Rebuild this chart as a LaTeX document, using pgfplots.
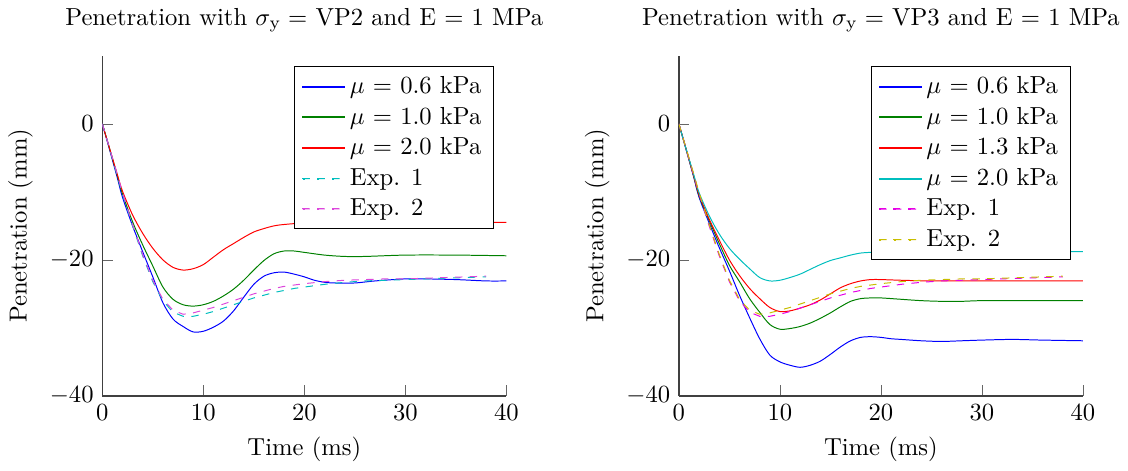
\documentclass[border=0pt]{standalone}
\usepackage{pgfplots}
\pgfplotsset{compat=1.18}
\usepackage{pgfplotstable}

\definecolor{cblue}{RGB}{0,0,255}
\definecolor{cgreen}{RGB}{0,128,0}
\definecolor{cred}{RGB}{255,0,0}
\definecolor{ccyan}{RGB}{0,190,190}
\definecolor{cmagenta}{RGB}{230,0,230}
\definecolor{cviolet}{RGB}{220,70,220}
\definecolor{cyellow}{RGB}{200,190,0}

% experimental curves, shared by both panels
\pgfplotstableread{
t d
0 0
0.5 -2.5
1 -5.1
1.5 -7.7
2 -10.3
3 -15.0
4 -19.4
5 -23.2
6 -26.0
7 -27.7
8 -28.3
9 -28.3
10 -28.0
11 -27.6
12 -27.1
13 -26.6
14 -26.1
15 -25.6
16 -25.2
17 -24.8
18 -24.5
19 -24.2
20 -24.0
22 -23.6
24 -23.3
26 -23.1
28 -23.0
30 -22.9
32 -22.8
34 -22.7
36 -22.6
38 -22.5
}\expone
\pgfplotstableread{
t d
0 0
0.5 -2.5
1 -5.0
1.5 -7.5
2 -10.1
3 -14.8
4 -19.2
5 -23.0
6 -25.8
7 -27.4
8 -28.0
9 -27.8
10 -27.4
11 -27.0
12 -26.5
13 -26.0
14 -25.5
15 -25.0
16 -24.6
17 -24.2
18 -23.9
19 -23.7
20 -23.5
22 -23.2
24 -23.0
26 -22.9
28 -22.8
30 -22.8
32 -22.7
34 -22.6
36 -22.5
38 -22.4
}\exptwo

\pgfplotsset{
  solidleg/.style={legend image code/.code={
    \fill[##1] (0pt,-0.2pt) rectangle (17pt,0.2pt);}},
  dashleg/.style={legend image code/.code={
    \fill[##1] (0pt,-0.2pt) rectangle (3pt,0.2pt)
      (6pt,-0.2pt) rectangle (9pt,0.2pt)
      (12pt,-0.2pt) rectangle (15pt,0.2pt);}},
  pen/.style={
    scale only axis,
    width=164pt, height=138pt,
    xmin=0, xmax=40, ymin=-40, ymax=10,
    xtick={0,10,20,30,40}, ytick={-40,-20,0},
    axis x line=bottom, axis y line=left,
    axis line style={-, black!75, semithick},
    tick align=inside,
    major tick style={black!60},
    xlabel={Time (ms)}, ylabel={Penetration (mm)},
    legend pos=north east,
    legend cell align=left,
    solidleg,
  },
}

\begin{document}
\begin{tikzpicture}
\begin{axis}[pen, name=ax1,
  title={Penetration with $\sigma_{\mathrm{y}} = $ VP2 and E $=$ 1 MPa}]
\addplot[cblue, smooth] coordinates {
  (0,0) (0.5,-2.6) (1,-5.3) (1.5,-8) (2,-10.8) (3,-15) (4,-18.8) (5,-22.5)
  (6,-26.3) (7,-28.7) (8,-29.8) (9,-30.6) (10,-30.5) (11,-29.9) (12,-29)
  (13,-27.5) (14,-25.5) (15,-23.6) (16,-22.4) (17,-21.9) (18,-21.8) (19,-22.1)
  (20,-22.5) (21,-23) (22,-23.3) (23,-23.4) (25,-23.4) (27,-23.1) (30,-22.8)
  (32,-22.8) (35,-22.9) (38,-23.1) (40,-23.1)
};
\addlegendentry{$\mu$ = 0.6 kPa}
\addplot[cgreen, smooth] coordinates {
  (0,0) (0.5,-2.5) (1,-5.1) (1.5,-7.7) (2,-10.3) (3,-14.4) (4,-17.8) (5,-20.9)
  (6,-24) (7,-25.8) (8,-26.6) (9,-26.8) (10,-26.6) (11,-26.1) (12,-25.3)
  (13,-24.3) (14,-23) (15,-21.5) (16,-20.1) (17,-19.1) (18,-18.7) (19,-18.7)
  (20,-18.9) (22,-19.3) (24,-19.5) (26,-19.5) (30,-19.3) (35,-19.3) (40,-19.4)
};
\addlegendentry{$\mu$ = 1.0 kPa}
\addplot[cred, smooth] coordinates {
  (0,0) (0.5,-2.5) (1,-5) (1.5,-7.5) (2,-9.9) (3,-13.4) (4,-16.1) (5,-18.3)
  (6,-20) (7,-21.1) (8,-21.5) (9,-21.3) (10,-20.7) (11,-19.6) (12,-18.5)
  (13,-17.6) (14,-16.7) (15,-15.9) (16,-15.4) (17,-15) (18,-14.8) (20,-14.6)
  (25,-14.5) (30,-14.5) (40,-14.5)
};
\addlegendentry{$\mu$ = 2.0 kPa}
\addplot[ccyan, dashed, dashleg] table[x=t, y=d] {\expone};
\addlegendentry{Exp. 1}
\addplot[cviolet, dashed, dashleg] table[x=t, y=d] {\exptwo};
\addlegendentry{Exp. 2}
\end{axis}

\begin{axis}[pen, at={(234pt,0)},
  title={Penetration with $\sigma_{\mathrm{y}} = $ VP3 and E $=$ 1 MPa}]
\addplot[cblue, smooth] coordinates {
  (0,0) (0.5,-2.6) (1,-5.3) (1.5,-8) (2,-10.8) (3,-14.6) (4,-18.2) (5,-21.6)
  (6,-25.2) (7,-28.5) (8,-31.6) (9,-34) (10,-35) (11,-35.5) (12,-35.8)
  (13,-35.5) (14,-34.9) (15,-33.9) (16,-32.8) (17,-31.9) (18,-31.4) (19,-31.3)
  (20,-31.4) (21,-31.6) (22,-31.7) (24,-31.9) (26,-32) (28,-31.9) (30,-31.8)
  (33,-31.7) (36,-31.8) (40,-31.9)
};
\addlegendentry{$\mu$ = 0.6 kPa}
\addplot[cgreen, smooth] coordinates {
  (0,0) (0.5,-2.6) (1,-5.2) (1.5,-7.9) (2,-10.6) (3,-14.2) (4,-17.6) (5,-20.8)
  (6,-23.2) (7,-25.7) (8,-27.7) (9,-29.5) (10,-30.2) (11,-30.1) (12,-29.8)
  (13,-29.3) (14,-28.6) (15,-27.8) (16,-26.9) (17,-26.1) (18,-25.7) (19,-25.6)
  (20,-25.6) (22,-25.8) (24,-26) (26,-26.1) (28,-26.1) (30,-26) (35,-26) (40,-26)
};
\addlegendentry{$\mu$ = 1.0 kPa}
\addplot[cred, smooth] coordinates {
  (0,0) (0.5,-2.6) (1,-5.2) (1.5,-7.8) (2,-10.4) (3,-14) (4,-17.1) (5,-20)
  (6,-22.3) (7,-24.2) (8,-25.7) (9,-27) (10,-27.6) (11,-27.5) (12,-27.1)
  (13,-26.6) (14,-25.9) (15,-25) (16,-24.1) (17,-23.5) (18,-23.1) (19,-22.9)
  (20,-22.9) (22,-23) (25,-23.1) (30,-23.1) (40,-23.1)
};
\addlegendentry{$\mu$ = 1.3 kPa}
\addplot[ccyan, smooth] coordinates {
  (0,0) (0.5,-2.6) (1,-5.1) (1.5,-7.6) (2,-10.1) (3,-13.5) (4,-16.2) (5,-18.3)
  (6,-19.9) (7,-21.3) (8,-22.6) (9,-23.1) (10,-23) (11,-22.6) (12,-22.1)
  (13,-21.4) (14,-20.7) (15,-20.1) (16,-19.7) (17,-19.3) (18,-19) (19,-18.9)
  (20,-18.9) (25,-18.9) (30,-18.8) (40,-18.8)
};
\addlegendentry{$\mu$ = 2.0 kPa}
\addplot[cmagenta, dashed, dashleg] table[x=t, y=d] {\expone};
\addlegendentry{Exp. 1}
\addplot[cyellow, dashed, dashleg] table[x=t, y=d] {\exptwo};
\addlegendentry{Exp. 2}
\end{axis}
\end{tikzpicture}
\end{document}
